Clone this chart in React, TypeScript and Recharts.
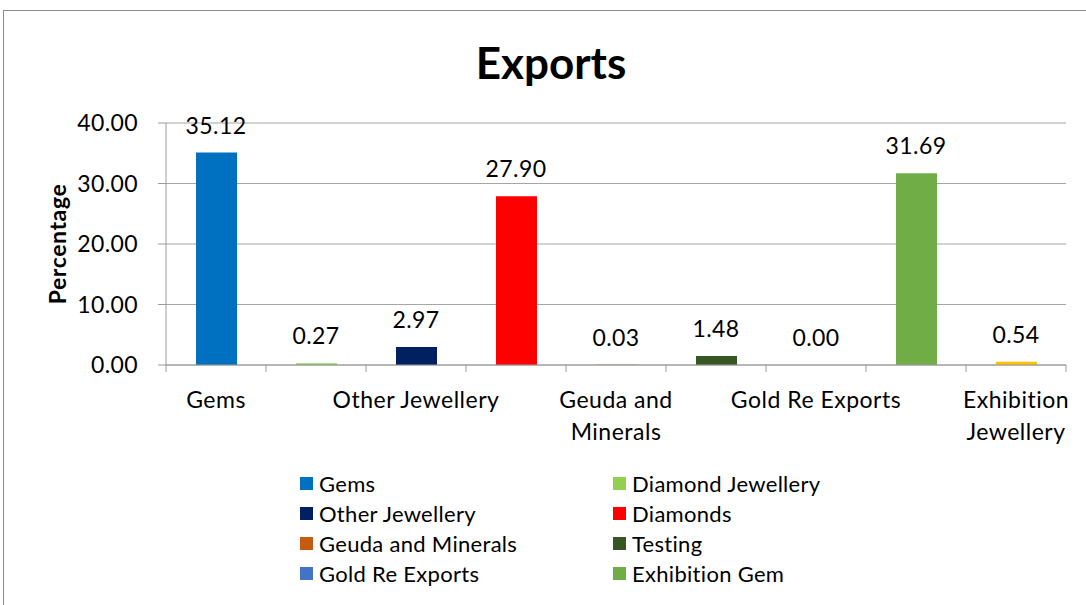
import { BarChart, Bar, XAxis, YAxis, CartesianGrid, Cell, ReferenceDot } from 'recharts';

const categories = [
  'Gems',
  'Diamond Jewellery',
  'Other Jewellery',
  'Diamonds',
  'Geuda and Minerals',
  'Testing',
  'Gold Re Exports',
  'Exhibition Gem',
  'Exhibition Jewellery',
];
const values = [35.12, 0.27, 2.97, 27.9, 0.03, 1.48, 0.0, 31.69, 0.54];
const colors = ['#0070C0', '#92D050', '#002060', '#FF0000', '#C55A11', '#375623', '#4472C4', '#70AD47', '#FFC000'];
const yTicks = [0, 10, 20, 30, 40];
// the legend in the source stops after "Exhibition Gem"
const legendCount = 8;

const FONT = 'Lato, "Open Sans", sans-serif';
const CHART_W = 1086;
const CHART_H = 605;
const X_AXIS_H = 30;
const MARGIN = { top: 123, right: 20, bottom: 240 - X_AXIS_H, left: 40 };
const Y_AXIS_W = 126;
const bandWidth = (CHART_W - MARGIN.left - MARGIN.right - Y_AXIS_W) / categories.length;

const data = categories.map((name, i) => ({ name, value: values[i] }));

// x-axis labels wrap like Excel: two words per line max
function wrapLabel(text: string): string[] {
  if (text === 'Geuda and Minerals') return ['Geuda and', 'Minerals'];
  if (text === 'Exhibition Jewellery') return ['Exhibition', 'Jewellery'];
  return [text];
}

function CategoryTick(props: any) {
  const { x, y, payload, index } = props;
  const lines = wrapLabel(String(payload.value));
  const showLabel = index % 2 === 0;
  const isLast = index === categories.length - 1;
  return (
    <g>
      <line x1={x - bandWidth / 2} x2={x - bandWidth / 2} y1={y - 8} y2={y - 1} stroke="#9a9a9a" />
      {isLast && <line x1={x + bandWidth / 2} x2={x + bandWidth / 2} y1={y - 8} y2={y - 1} stroke="#9a9a9a" />}
      {showLabel && (
        <text x={x} y={y + 35} textAnchor="middle" fontSize={23} letterSpacing={0.5} fill="#000" fontFamily={FONT}>
          {lines.map((l, i) => (
            <tspan key={i} x={x} dy={i === 0 ? 0 : 32}>{l}</tspan>
          ))}
        </text>
      )}
    </g>
  );
}

export default function App() {
  return (
    <div style={{ position: 'absolute', left: 0, top: 0, width: CHART_W, height: CHART_H, overflow: 'hidden', background: '#fff', fontFamily: FONT }}>
      <div style={{ position: 'absolute', left: 3, top: 10, width: 1200, height: 700, border: '1.5px solid #8c8c8c' }} />
      <div style={{ position: 'absolute', left: 0, top: 32, width: 1102, textAlign: 'center', fontSize: 44, fontWeight: 700, lineHeight: '60px' }}>
        Exports
      </div>
      <div style={{ position: 'absolute', left: 0, top: 0 }}>
        <BarChart width={CHART_W} height={CHART_H} data={data} margin={MARGIN}>
          <CartesianGrid vertical={false} stroke="#a6a6a6" strokeWidth={1.2} />
          <XAxis
            dataKey="name"
            interval={0}
            height={X_AXIS_H}
            tickLine={false}
            stroke="#9a9a9a"
            tick={<CategoryTick />}
          />
          <YAxis
            width={Y_AXIS_W}
            domain={[0, 40]}
            ticks={yTicks}
            stroke="#9a9a9a"
            tickSize={8}
            tickMargin={20}
            tickFormatter={(v: number) => v.toFixed(2)}
            tick={{ fill: '#000', fontSize: 23, letterSpacing: 0.4, fontFamily: FONT }}
            label={{ value: 'Percentage', angle: -90, position: 'insideLeft', offset: 18, style: { fill: '#000', fontSize: 23, fontWeight: 700, letterSpacing: 0.6, fontFamily: FONT, textAnchor: 'middle' } }}
          />
          <Bar dataKey="value" barSize={41} isAnimationActive={false}>
            {data.map((d, i) => (
              <Cell key={d.name} fill={colors[i]} />
            ))}
          </Bar>
          {data.map((d) => (
            <ReferenceDot
              key={'lbl-' + d.name}
              x={d.name}
              y={d.value}
              r={1}
              fill="none"
              stroke="none"
              label={{ value: d.value.toFixed(2), position: 'top', offset: 18, fill: '#000', fontSize: 23, letterSpacing: 0.4, fontFamily: FONT }}
            />
          ))}
        </BarChart>
      </div>
      <div style={{ position: 'absolute', left: 300, top: 468, width: 600, display: 'grid', gridTemplateColumns: '313px 280px', rowGap: 0 }}>
        {categories.slice(0, legendCount).map((name, i) => (
          <div key={name} style={{ display: 'flex', alignItems: 'center', height: 30, fontSize: 22, letterSpacing: 0.3 }}>
            <span style={{ width: 13, height: 13, background: colors[i], marginRight: 6, display: 'inline-block', flexShrink: 0 }} />
            <span>{name}</span>
          </div>
        ))}
      </div>
    </div>
  );
}
